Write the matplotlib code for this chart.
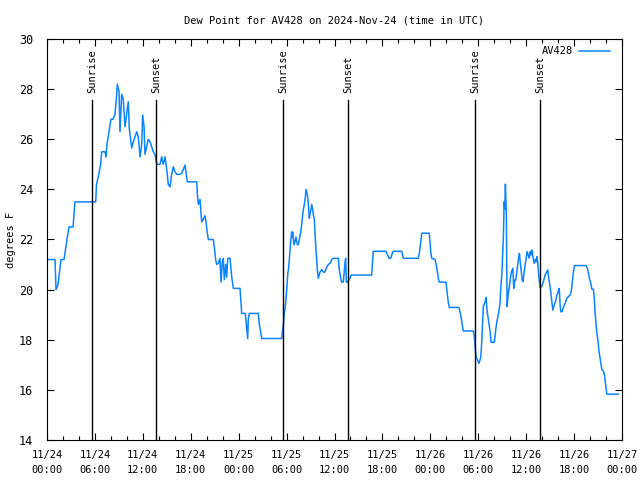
import matplotlib
matplotlib.use("Agg")
import matplotlib.pyplot as plt

# hours since 2024-11-24 00:00 UTC
hours = [0.0, 1.0, 1.13, 1.38, 1.75, 2.13, 2.5, 2.75, 3.26, 3.5, 6.1, 6.2, 6.42, 6.72, 6.85, 7.26, 7.39,
         7.51, 7.76, 8.01, 8.26, 8.51, 8.73, 8.8, 9.02, 9.14, 9.35, 9.55, 9.77, 9.98, 10.18, 10.31,
         10.61, 10.81, 11.23, 11.43, 11.65, 11.86, 11.98, 12.15, 12.27, 12.48, 12.68, 12.9, 13.11,
         13.31, 13.52, 13.74, 14.15, 14.36, 14.56, 14.78, 14.99, 15.19, 15.4, 15.61, 15.82, 16.03,
         16.24, 16.65, 16.87, 17.28, 17.57, 18.75, 18.82, 18.95, 19.16, 19.25, 19.37, 19.57, 19.78,
         19.91, 20.0, 20.2, 20.82, 20.95, 21.12, 21.25, 21.45, 21.66, 21.79, 21.95, 22.08, 22.2,
         22.38, 22.5, 22.63, 22.92, 23.13, 23.25, 23.33, 24.17, 24.29, 24.38, 24.83, 25.0, 25.13,
         25.2, 25.33, 26.46, 26.59, 26.76, 26.88, 29.39, 29.47, 29.6, 29.72, 29.84, 30.02, 30.14,
         30.27, 30.43, 30.64, 30.68, 30.76, 30.93, 31.05, 31.18, 31.34, 31.47, 31.59, 31.77, 31.89,
         32.02, 32.1, 32.22, 32.35, 32.43, 32.6, 32.72, 32.85, 32.93, 33.06, 33.15, 33.27, 33.35,
         33.47, 33.56, 33.68, 33.85, 33.97, 34.18, 34.4, 34.6, 34.81, 35.02, 35.22, 35.44, 35.65,
         35.85, 36.48, 36.6, 36.78, 36.9, 37.1, 37.19, 37.32, 37.4, 37.48, 37.61, 37.73, 37.94,
         38.07, 40.66, 40.78, 40.86, 42.45, 42.61, 42.86, 43.04, 43.24, 43.37, 44.42, 44.62, 46.5,
         46.62, 46.8, 46.93, 47.87, 47.96, 48.05, 48.17, 48.59, 48.8, 49.0, 49.12, 49.96, 50.13,
         50.25, 50.38, 51.59, 51.8, 51.97, 52.13, 53.39, 53.52, 53.64, 53.73, 53.89, 54.1, 54.31,
         54.43, 54.56, 54.63, 54.85, 54.97, 55.13, 55.31, 55.48, 55.6, 56.02, 56.19, 56.32, 56.44,
         56.57, 56.73, 56.82, 56.95, 57.02, 57.15, 57.24, 57.32, 57.4, 57.52, 57.61, 57.74, 57.86,
         57.99, 58.11, 58.24, 58.33, 58.45, 58.58, 58.7, 58.83, 58.91, 59.04, 59.16, 59.25, 59.37,
         59.5, 59.62, 59.75, 59.87, 60.0, 60.12, 60.25, 60.37, 60.5, 60.62, 60.71, 60.84, 61.0,
         61.13, 61.25, 61.33, 61.46, 61.53, 61.66, 61.75, 61.96, 62.16, 62.37, 62.58, 62.71, 62.83,
         63.0, 63.12, 63.25, 63.34, 63.5, 63.67, 63.85, 63.97, 64.1, 64.17, 64.25, 64.34, 64.5,
         64.67, 64.88, 65.09, 65.3, 65.51, 65.63, 65.76, 65.92, 66.05, 67.51, 67.67, 67.8, 67.92,
         68.1, 68.22, 68.42, 68.51, 68.64, 68.76, 68.89, 69.01, 69.1, 69.26, 69.38, 69.5, 69.67,
         69.8, 69.92, 70.1, 71.55]
dewpt = [21.2, 21.2, 20.0, 20.2, 21.2, 21.2, 22.0, 22.5, 22.5, 23.5, 23.5, 24.2, 24.5, 25.0, 25.5, 25.5, 25.3,
         25.8, 26.3, 26.8, 26.8, 27.0, 27.8, 28.2, 27.9, 26.3, 27.8, 27.6, 26.5, 27.0, 27.5, 26.4,
         25.65, 25.9, 26.3, 26.1, 25.3, 25.8, 26.97, 26.5, 25.4, 25.7, 26.0, 25.9, 25.7,
         25.5, 25.4, 25.0, 25.0, 25.3, 25.0, 25.3, 24.8, 24.2, 24.1, 24.6, 24.9, 24.7,
         24.6, 24.6, 24.64, 24.97, 24.3, 24.3, 23.85, 23.4, 23.6, 23.2, 22.7, 22.8, 22.95,
         22.7, 22.45, 22.0, 22.0, 21.7, 21.2, 21.0, 21.05, 21.25, 20.3, 21.1, 21.25, 20.4,
         21.0, 20.5, 21.25, 21.25, 20.5, 20.25, 20.05, 20.05, 19.5, 19.05, 19.05, 18.5, 18.05,
         18.8, 19.05, 19.05, 18.6, 18.3, 18.05, 18.05, 18.3, 18.6, 19.1, 19.3, 20.0, 20.6,
         20.9, 21.6, 22.3, 22.1, 22.3, 21.8, 21.9, 22.1, 21.8, 21.8, 22.0, 22.3, 22.6,
         23.0, 23.2, 23.4, 23.7, 24.0, 23.8, 23.4, 22.85, 23.0, 23.2, 23.4, 23.2, 23.0,
         22.8, 22.3, 21.6, 20.8, 20.45, 20.7, 20.8, 20.7, 20.7, 20.9, 21.0, 21.05, 21.2,
         21.25, 21.25, 20.8, 20.45, 20.3, 20.3, 20.6, 21.1, 21.25, 20.3, 20.3, 20.35, 20.45,
         20.58, 20.58, 21.2, 21.53, 21.53, 21.4, 21.25, 21.25, 21.45, 21.53, 21.53, 21.25, 21.25,
         21.45, 21.9, 22.25, 22.25, 21.85, 21.5, 21.25, 21.2, 20.9, 20.45, 20.3, 20.3, 19.8,
         19.5, 19.29, 19.29, 19.0, 18.65, 18.35, 18.35, 18.1, 17.6, 17.3, 17.2, 17.06, 17.3,
         17.86, 18.8, 19.32, 19.5, 19.69, 19.1, 18.7, 18.35, 17.9, 17.9, 18.4, 18.7, 18.9,
         19.1, 19.45, 20.05, 20.6, 21.11, 22.11, 23.51, 23.2, 24.21, 22.95, 19.32, 19.8, 20.05,
         20.38, 20.65, 20.78, 20.85, 20.05, 20.38, 20.38, 20.72, 20.92, 21.25, 21.45, 21.11, 20.78,
         20.38, 20.32, 20.72, 20.98, 21.25, 21.52, 21.38, 21.25, 21.52, 21.38, 21.58, 21.32, 21.05,
         21.2, 21.11, 21.32, 21.05, 20.72, 20.32, 20.09, 20.12, 20.32, 20.58, 20.72, 20.78, 20.45,
         20.12, 19.79, 19.45, 19.18, 19.38, 19.52, 19.79, 19.85, 20.05, 19.92, 19.38, 19.12, 19.12,
         19.32, 19.45, 19.65, 19.72, 19.79, 19.92, 20.25, 20.72, 20.96, 20.96, 20.85, 20.65, 20.45,
         20.25, 20.02, 20.02, 19.72, 19.05, 18.58, 18.18, 17.92, 17.59, 17.25, 17.0, 16.79, 16.75,
         16.6, 16.3, 15.83, 15.83]

sun_hours = [5.63, 13.65, 29.55, 37.69, 53.6, 61.73]
sun_labels = ["Sunrise", "Sunset", "Sunrise", "Sunset", "Sunrise", "Sunset"]

tick_hours = list(range(0, 73, 6))
tick_labels = ["11/24\n00:00", "11/24\n06:00", "11/24\n12:00", "11/24\n18:00",
               "11/25\n00:00", "11/25\n06:00", "11/25\n12:00", "11/25\n18:00",
               "11/26\n00:00", "11/26\n06:00", "11/26\n12:00", "11/26\n18:00",
               "11/27\n00:00"]

plt.rcParams['font.family'] = 'DejaVu Sans Mono'
fs = 7.5

fig = plt.figure(figsize=(6.4, 4.8), dpi=100)
ax = fig.add_axes([47/640, 40/480, 575/640, 401/480])

ax.plot(hours, dewpt, color='#0a84ff', lw=1.1, label='AV428')

for h, lab in zip(sun_hours, sun_labels):
    ax.axvline(h, ymin=0, ymax=0.848, color='black', lw=1.0)
    ax.text(h, 0.866, lab, transform=ax.get_xaxis_transform(), rotation=90,
            ha='center', va='bottom', fontsize=fs)

ax.set_xlim(0, 72)
ax.set_ylim(14, 30)
ax.set_xticks(tick_hours)
ax.set_xticklabels(tick_labels, fontsize=fs, linespacing=1.6)
ax.set_xticks(range(0, 73, 2), minor=True)
ax.set_yticks(range(14, 31, 2))
ax.tick_params(axis='y', labelsize=fs + 1, pad=10)
ax.tick_params(axis='x', pad=7)
ax.tick_params(which='both', direction='in', top=True, right=True, width=0.8)
ax.tick_params(which='major', length=5)
ax.tick_params(which='minor', length=3)
for s in ax.spines.values():
    s.set_linewidth(0.8)

fig.text(11/640, 0.5, 'degrees F', rotation=90, ha='center', va='center', fontsize=fs)
ax.set_title('Dew Point for AV428 on 2024-Nov-24 (time in UTC)', fontsize=fs, pad=11)

leg = ax.legend(loc='upper right', frameon=False, fontsize=fs, handlelength=3.0,
                handletextpad=0.6, markerfirst=False, borderaxespad=0.3,
                bbox_to_anchor=(0.992, 1.0))

fig.savefig('out.png', dpi=100)
